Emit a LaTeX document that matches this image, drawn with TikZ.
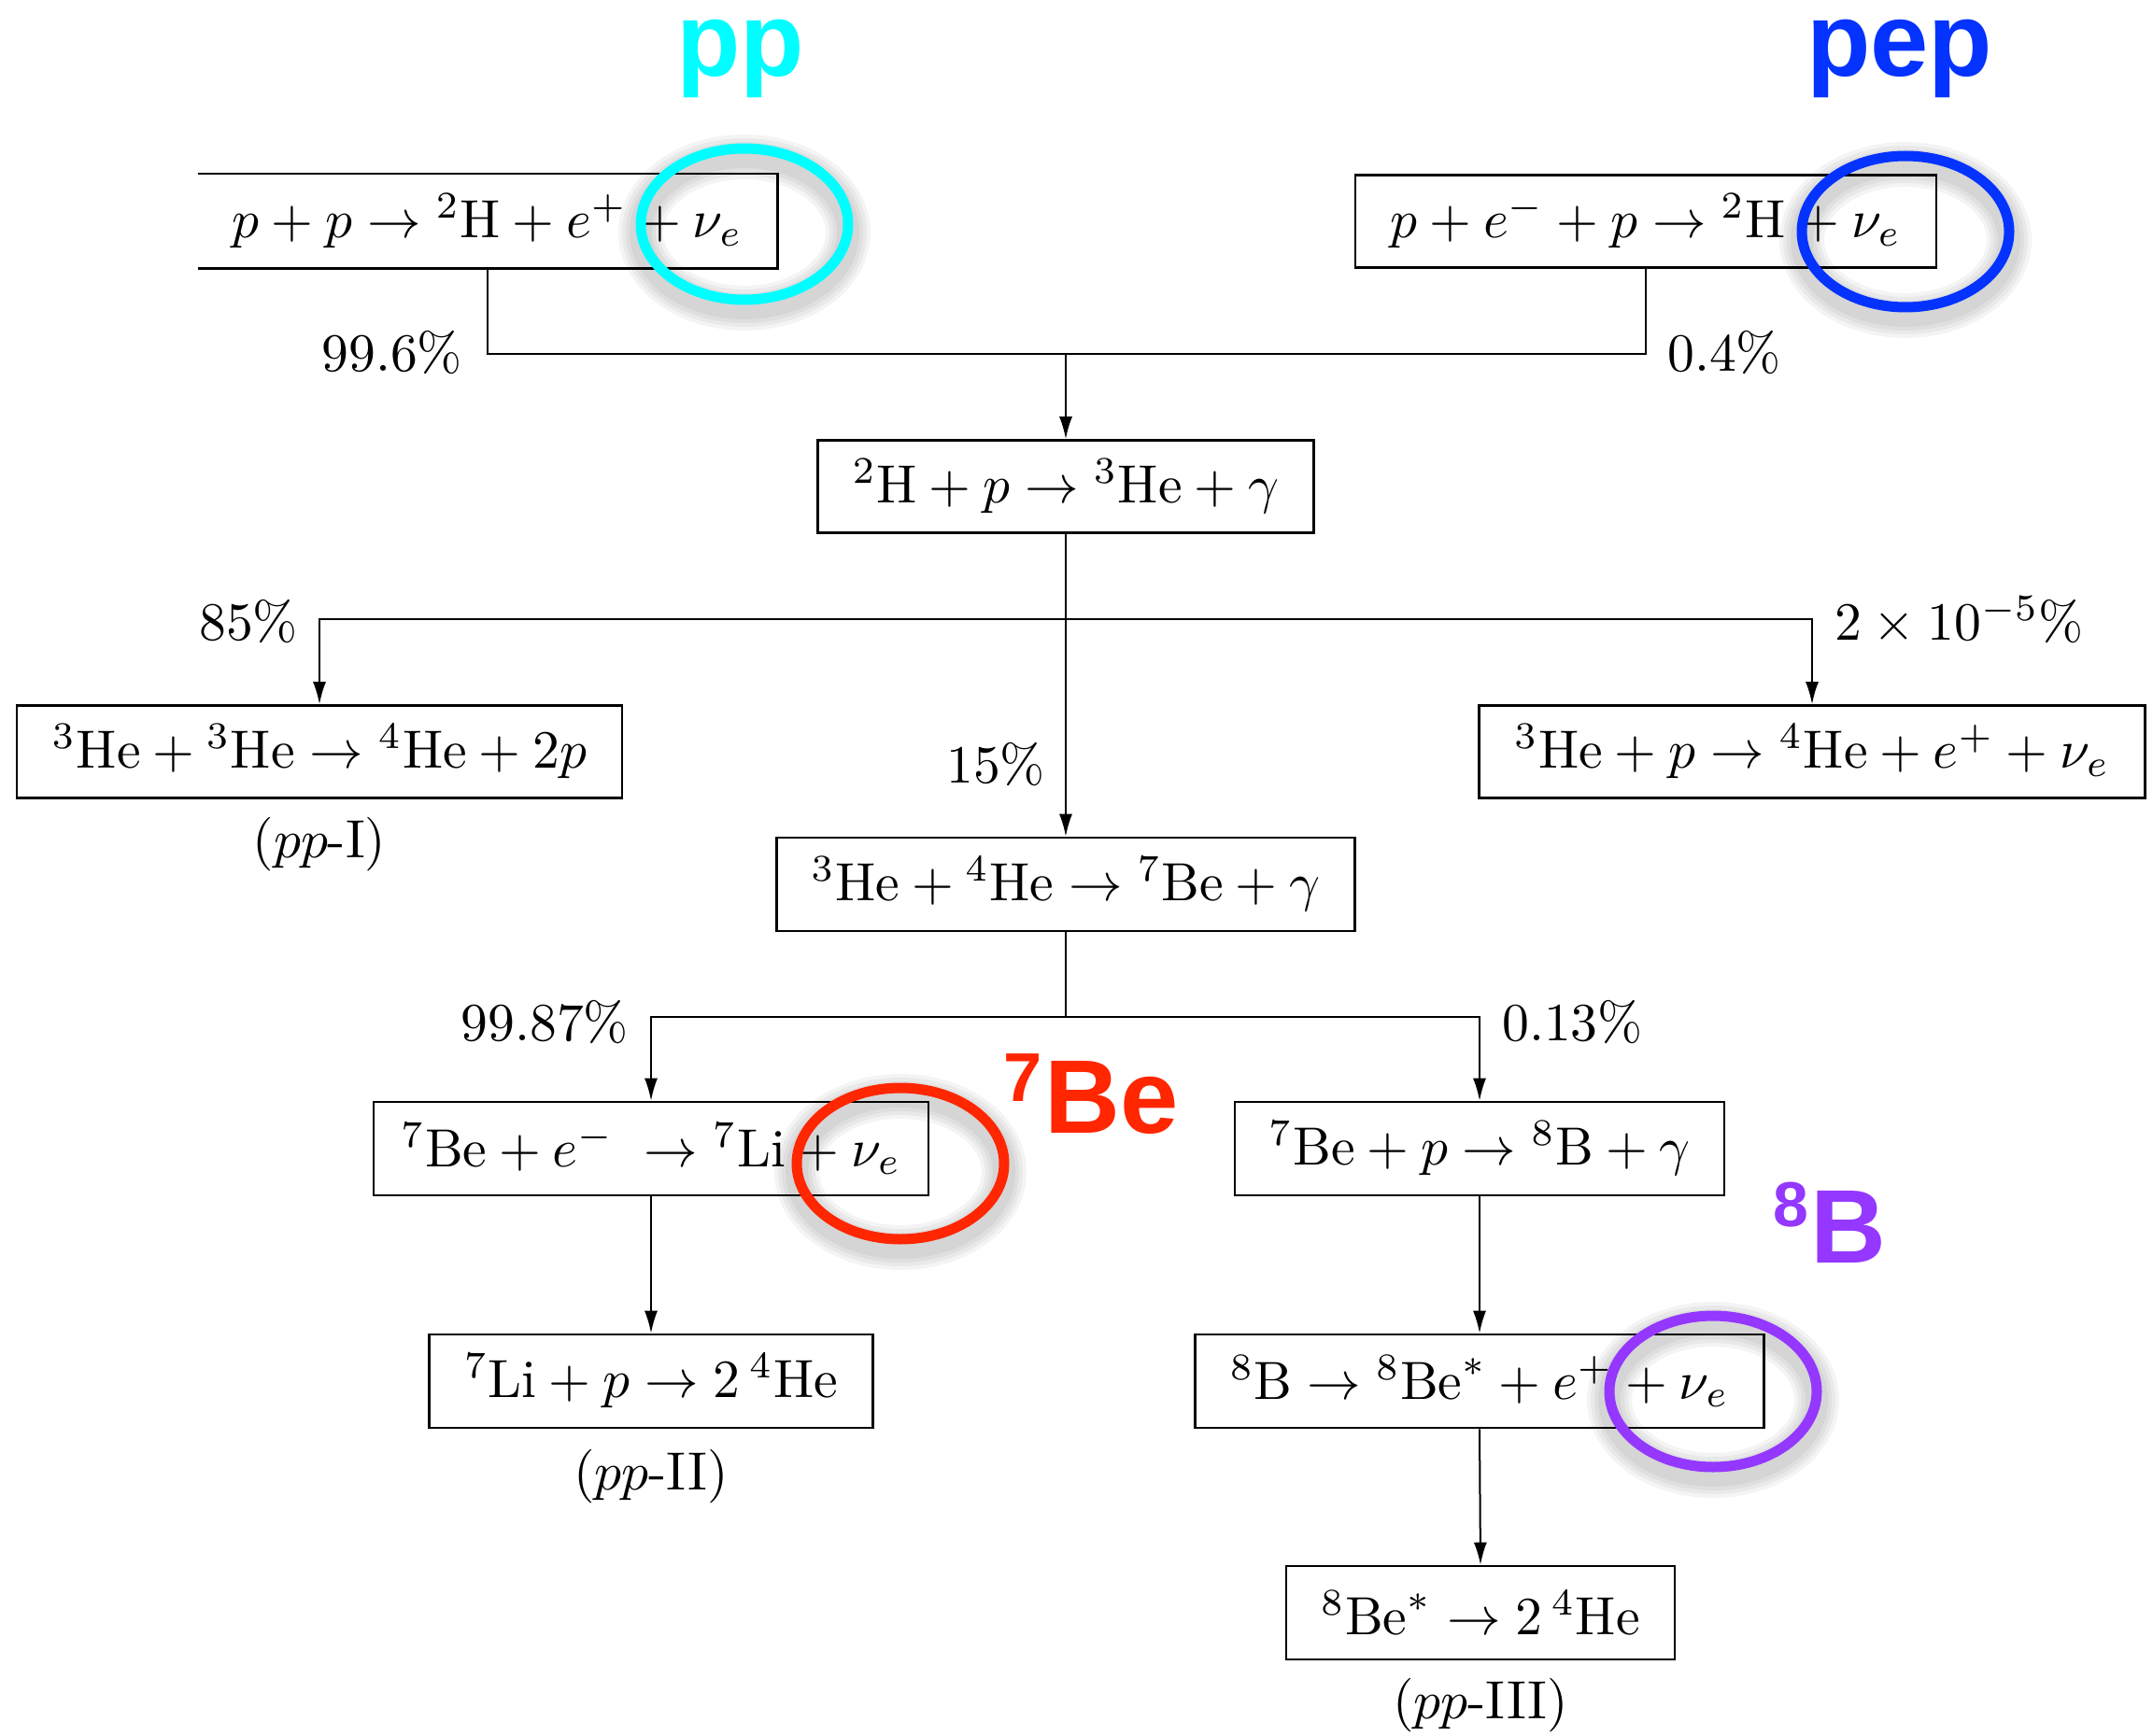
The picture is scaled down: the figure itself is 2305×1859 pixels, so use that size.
\RequirePackage{fix-cm}
\documentclass[tikz,border=0pt]{standalone}
\usepackage{graphicx}
\usepackage{fontspec}
\newfontfamily\tagfont{Liberation Sans}[BoldFont={Liberation Sans Bold}]
\usetikzlibrary{arrows.meta}
\definecolor{ppcyan}{HTML}{00FDFF}
\definecolor{pepblue}{HTML}{0433FF}
\definecolor{bered}{HTML}{FF2600}
\definecolor{bpurple}{HTML}{9437FF}
% text is set at 10pt and enlarged
\newcommand\bigsix[1]{\scalebox{5.76}{#1}}
\tikzset{
  rxn/.style={draw, line width=2.6pt, inner sep=0pt, minimum height=99pt,
              font=\fontsize{10}{12}\selectfont},
  rxnopen/.style={rxn, draw=none},
  conn/.style={line width=2pt},
  arr/.style={conn, -{Latex[length=24pt,width=14pt]}},
  pct/.style={inner sep=0pt, font=\fontsize{10}{12}\selectfont},
  tag/.style={inner sep=0pt, text height=62pt, text depth=22pt,
              font=\tagfont\bfseries\fontsize{112}{120}\selectfont},
  ring/.style={line width=11pt},
  halo/.style={black, opacity=0.045},
}
\begin{document}
\begin{tikzpicture}[x=1pt,y=-1pt]
\useasboundingbox (0,0) rectangle (2305,1859);

% soft shadows under the highlight rings
\foreach \cx/\cy in {797/240, 2040/248, 964/1246, 1834/1490}{
  \foreach \w in {48,40,32,24}{
    \draw[halo, line width=\w pt] (\cx,\cy+9) ellipse [x radius=111pt, y radius=81pt];
  }
}

% reaction boxes
\node[rxnopen, minimum width=618pt] (ppL) at (522,237) {\bigsix{$p+p\rightarrow{}^2\mathrm{H}+e^+ +\nu_e$}};
\draw[line width=2.6pt] (ppL.north west) -- (ppL.north east) -- (ppL.south east) -- (ppL.south west);
\node[rxn, minimum width=622pt] (pep) at (1762,237) {\bigsix{$p+e^- +p\rightarrow{}^2\mathrm{H}+\nu_e$}};
\node[rxn, minimum width=531pt] (dH) at (1141,521) {\bigsix{${}^2\mathrm{H}+p\rightarrow{}^3\mathrm{He}+\gamma$}};
\node[rxn, minimum width=648pt] (HeHe) at (342,805) {\bigsix{${}^3\mathrm{He}+{}^3\mathrm{He}\rightarrow{}^4\mathrm{He}+2p$}};
\node[rxn, minimum width=713pt] (hep) at (1940,805) {\bigsix{${}^3\mathrm{He}+p\rightarrow{}^4\mathrm{He}+e^+ +\nu_e$}};
\node[rxn, minimum width=619pt, minimum height=100pt] (HeFour) at (1141,947) {\bigsix{${}^3\mathrm{He}+{}^4\mathrm{He}\rightarrow{}^7\mathrm{Be}+\gamma$}};
\node[rxn, minimum width=594pt, minimum height=100pt] (BeE) at (697,1230) {\bigsix{${}^7\mathrm{Be}+e^-\;\rightarrow{}^7\mathrm{Li}+\nu_e$}};
\node[rxn, minimum width=524pt, minimum height=100pt] (BeP) at (1584,1230) {\bigsix{${}^7\mathrm{Be}+p\rightarrow{}^8\mathrm{B}+\gamma$}};
\node[rxn, minimum width=475pt, minimum height=100pt] (LiP) at (697,1479) {\bigsix{${}^7\mathrm{Li}+p\rightarrow 2\,{}^4\mathrm{He}$}};
\node[rxn, minimum width=609pt, minimum height=100pt] (Bdec) at (1584,1479) {\bigsix{${}^8\mathrm{B}\rightarrow{}^8\mathrm{Be}^*+e^+ +\nu_e$}};
\node[rxn, minimum width=416pt, minimum height=100pt] (BeStar) at (1585,1727) {\bigsix{${}^8\mathrm{Be}^*\rightarrow 2\,{}^4\mathrm{He}$}};

% branch points
\coordinate (j1) at (1141,379);
\coordinate (j2) at (1141,663);
\coordinate (j3) at (1141,1089);

% connectors
\draw[conn] (ppL.south) |- (j1) -| (pep.south);
\draw[arr] (j1) -- (dH.north);
\draw[arr] (dH.south) -- (HeFour.north);
\draw[arr] (j2) -| (HeHe.north);
\draw[arr] (j2) -| (hep.north);
\draw[conn] (HeFour.south) -- (j3);
\draw[arr] (j3) -| (BeE.north);
\draw[arr] (j3) -| (BeP.north);
\draw[arr] (BeE.south) -- (LiP.north);
\draw[arr] (BeP.south) -- (Bdec.north);
\draw[arr] (Bdec.south) -- (BeStar.north);

% branching ratios
\node[pct, anchor=base east] (r1) at (495,398) {\bigsix{99.6\%}};
\node[pct, anchor=base west] (r2) at (1785,398) {\bigsix{0.4\%}};
\node[pct, anchor=base east] (r3) at (319,685) {\bigsix{85\%}};
\node[pct, anchor=base west] (r4) at (1964,685) {\bigsix{$2\times10^{-5}$\%}};
\node[pct, anchor=base] (r5) at (1066,838) {\bigsix{15\%}};
\node[pct, anchor=base east] (r6) at (673,1114) {\bigsix{99.87\%}};
\node[pct, anchor=base west] (r7) at (1608,1114) {\bigsix{0.13\%}};

% chain names
\node[pct, anchor=base] (c1) at (342,918) {\bigsix{($pp$-I)}};
\node[pct, anchor=base] (c2) at (697,1595) {\bigsix{($pp$-II)}};
\node[pct, anchor=base] (c3) at (1585,1840) {\bigsix{($pp$-III)}};

% highlight rings
\draw[ring, ppcyan] (797,240) ellipse [x radius=111pt, y radius=81pt];
\draw[ring, pepblue] (2040,248) ellipse [x radius=111pt, y radius=81pt];
\draw[ring, bered] (964,1246) ellipse [x radius=111pt, y radius=81pt];
\draw[ring, bpurple] (1834,1490) ellipse [x radius=111pt, y radius=81pt];

% neutrino source tags
\node[tag, text=ppcyan, anchor=base west] (tpp) at (724,82) {pp};
\node[tag, text=pepblue, anchor=base west] (tpep) at (1934,82) {pep};
\node[tag, text=bered, anchor=base west] (tbe) at (1074,1213)
  {\raisebox{34pt}{\fontsize{74}{74}\selectfont 7}\kern3pt Be};
\node[tag, text=bpurple, anchor=base west] (tb) at (1898,1352)
  {\raisebox{39pt}{\fontsize{68}{68}\selectfont 8}\kern2pt B};
\end{tikzpicture}
\end{document}
